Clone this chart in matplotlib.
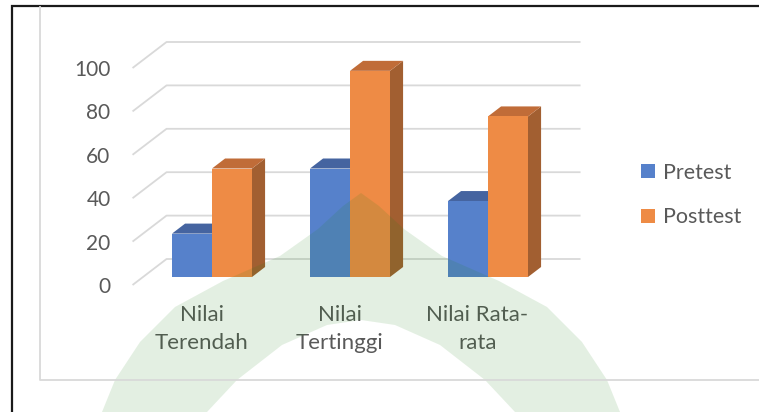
import matplotlib
matplotlib.use("Agg")
import matplotlib.pyplot as plt
from matplotlib.patches import Polygon, Rectangle, Patch
import numpy as np

# data
categories = ["Nilai\nTerendah", "Nilai\nTertinggi", "Nilai Rata-\nrata"]
pretest = [20, 50, 35]
posttest = [50, 95, 74]
series_names = ["Pretest", "Posttest"]
yticks = [0, 20, 40, 60, 80, 100]

# colours: front, top, side
blue = ("#5681CB", "#4564A0", "#3F5E97")
orange = ("#EE8B45", "#C06C38", "#A25F31")
grid_col = "#D9D9D9"
text_col = "#595959"

W, H = 759, 412
fig = plt.figure(figsize=(W / 100, H / 100), dpi=100, facecolor="white")
plt.rcParams["font.family"] = ["Lato", "DejaVu Sans"]

# front plane of the bars (category units x, value units y)
ax = fig.add_axes([143 / W, 135 / H, 414 / W, 217 / H])
ax.set_xlim(-0.5, 2.5)
ax.set_ylim(0, 100)
ax.axis("off")

# depth of the 3d box in data units
DX, DY = 34 / 138, 26 / 2.17
f_front, f_bar, f_back = -8 / 26, 10 / 26, 18 / 26
bw = 40 / 138

# back wall gridlines with floor diagonals
for v in yticks:
    xs = [-0.5 + f_front * DX, -0.5 + f_back * DX, 2.5 + f_back * DX]
    ys = [v + f_front * DY, v + f_back * DY, v + f_back * DY]
    ax.plot(xs, ys, color=grid_col, lw=1.3, clip_on=False, zorder=1,
            solid_capstyle="butt")
    ax.annotate(str(v), (xs[0], ys[0]), xytext=(-22, -2),
                textcoords="offset pixels", ha="right", va="center",
                fontsize=15, color=text_col, annotation_clip=False)


def bar3d(x0, v, cols):
    bdx, bdy = f_bar * DX, f_bar * DY
    front = Rectangle((x0, 0), bw, v, facecolor=cols[0], edgecolor="none",
                      zorder=3, clip_on=False)
    top = Polygon([(x0, v), (x0 + bw, v), (x0 + bw + bdx, v + bdy),
                   (x0 + bdx, v + bdy)], closed=True, facecolor=cols[1],
                  edgecolor="none", zorder=3, clip_on=False)
    side = Polygon([(x0 + bw, 0), (x0 + bw + bdx, bdy),
                    (x0 + bw + bdx, v + bdy), (x0 + bw, v)], closed=True,
                   facecolor=cols[2], edgecolor="none", zorder=3,
                   clip_on=False)
    for p in (side, top, front):
        ax.add_patch(p)


for i in range(len(categories)):
    bar3d(i - bw, pretest[i], blue)
    bar3d(i, posttest[i], orange)
    ax.annotate(categories[i], (i + f_front * DX, f_front * DY),
                xytext=(0, -20), textcoords="offset pixels", ha="center",
                va="top", fontsize=16, color=text_col, linespacing=1.5,
                annotation_clip=False)

# legend
handles = [Patch(facecolor=blue[0]), Patch(facecolor=orange[0])]
fig.legend(handles, series_names, loc="center left",
           bbox_to_anchor=(641 / W, 1 - 195 / H), frameon=False,
           fontsize=15.5, labelcolor=text_col, handlelength=0.66,
           handleheight=0.66, handletextpad=0.35, labelspacing=1.15,
           borderpad=0, borderaxespad=0)

# overlay: frames and watermark, pixel coordinates
ov = fig.add_axes([0, 0, 1, 1], zorder=2)
ov.set_xlim(0, W)
ov.set_ylim(H, 0)
ov.axis("off")
ov.patch.set_alpha(0)
ov.plot([12, 12, W], [H, 6, 6], color="#1A1A1A", lw=1.6,
        solid_joinstyle="miter")
ov.plot([40, 40, W], [7, 380, 380], color=grid_col, lw=1.3)

outer = [(102, 412), (115, 380), (140, 342), (175, 307), (223, 281),
         (280, 256), (318, 229), (343, 206), (361, 193)]
outer += [(722 - x, y) for x, y in outer[-2::-1]]
inner = [(515, 412), (485, 380), (440, 345), (395, 325), (361, 320),
         (327, 325), (282, 345), (237, 380), (207, 412)]
ov.add_patch(Polygon(outer + inner, closed=True, facecolor="#1E8214",
                     edgecolor="none", alpha=0.12))

fig.savefig("out.png", dpi=100, facecolor="white")
